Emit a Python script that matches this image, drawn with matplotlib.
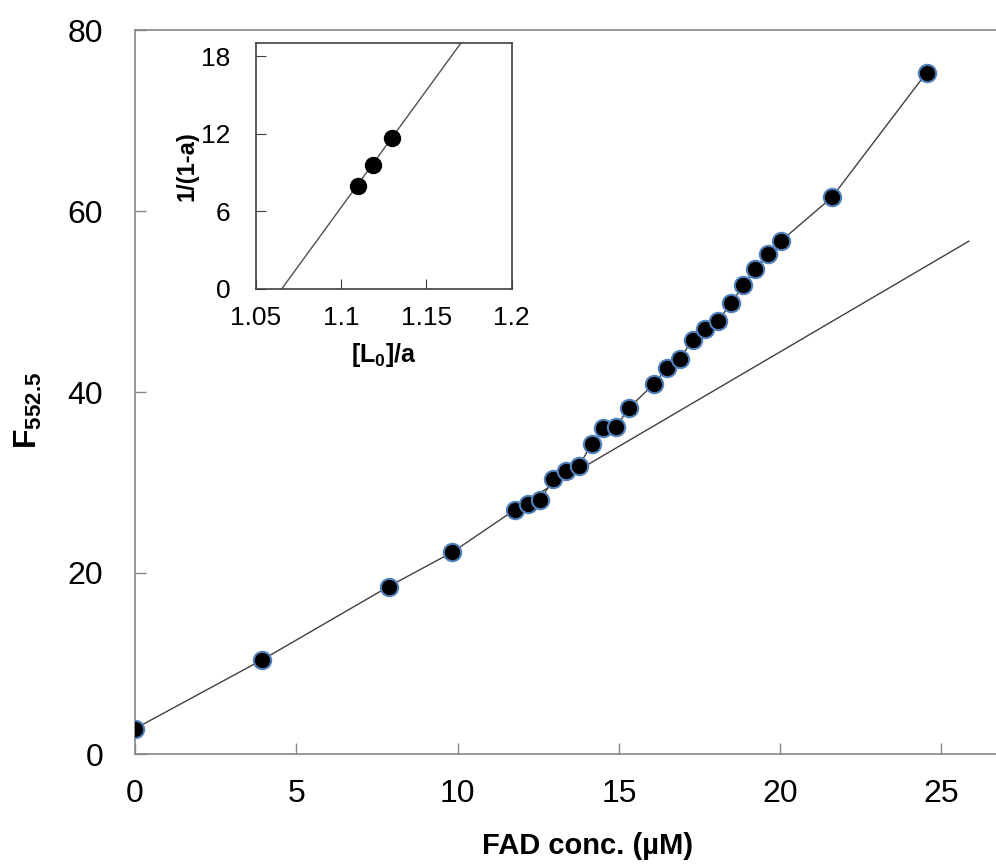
import matplotlib.pyplot as plt
import numpy as np

plt.rcParams['font.family'] = ['Liberation Sans', 'DejaVu Sans']
plt.rcParams['mathtext.fontset'] = 'custom'
plt.rcParams['mathtext.rm'] = 'Liberation Sans'
plt.rcParams['mathtext.bf'] = 'Liberation Sans:bold'

# titration data
fad_conc = [0, 3.94, 7.86, 9.84, 11.78, 12.18, 12.57, 12.97, 13.37, 13.76,
            14.16, 14.52, 14.91, 15.30, 16.09, 16.50, 16.88, 17.29, 17.67,
            18.08, 18.48, 18.86, 19.22, 19.63, 20.03, 21.60, 24.54]
f552 = [2.8, 10.4, 18.5, 22.3, 27.0, 27.6, 28.1, 30.4, 31.3, 31.8,
        34.3, 36.0, 36.1, 38.2, 40.9, 42.7, 43.7, 45.7, 47.0,
        47.9, 49.8, 51.8, 53.6, 55.3, 56.7, 61.5, 75.3]

# linear part
fit_slope = 2.09
fit_intercept = 2.64
fit_x = [11.8, 25.85]

# inset: 1/(1-a) vs [L0]/a
l0_a = [1.110, 1.119, 1.130]
inv_1ma = [7.96, 9.59, 11.65]
inset_slope = 181.0
inset_x0 = 1.0652

fig = plt.figure(figsize=(9.96, 8.66), dpi=100)
ax = fig.add_axes([135/996, 1 - 754/866, 1 - 135/996, (754 - 30)/866])

ax.plot(fad_conc, f552, color='#404040', linewidth=1, zorder=2)
fx = np.array(fit_x)
ax.plot(fx, fit_intercept + fit_slope*fx, color='#404040', linewidth=1, zorder=2)
ax.plot(fad_conc, f552, linestyle='none', marker='o', markersize=12.5,
        markerfacecolor='black', markeredgecolor='#4f81bd', markeredgewidth=1.5, zorder=3)

ax.set_xlim(0, 26.69)
ax.set_ylim(0, 80)
ax.set_xticks([0, 5, 10, 15, 20, 25])
ax.set_yticks([0, 20, 40, 60, 80])
for s in ['left', 'bottom', 'top']:
    ax.spines[s].set_color('#868686')
    ax.spines[s].set_linewidth(1.2)
ax.spines['right'].set_visible(False)
ax.tick_params(axis='both', direction='in', color='#868686', labelsize=23, width=1)
ax.tick_params(axis='x', length=8, pad=18)
ax.tick_params(axis='y', length=8, pad=23)
fig.text(588/996, 1 - 846/866, 'FAD conc. (µM)', ha='center', va='center',
         fontsize=21, fontweight='bold')
fig.text(28/996, 1 - 410/866, r'$\mathbf{F_{552.5}}$', ha='center', va='center',
         fontsize=23, rotation=90)

# inset
ins = fig.add_axes([255.7/996, 1 - 289/866, 256/996, (289 - 42.7)/866])
ix = np.array([1.05, 1.2])
ins.plot(ix, inset_slope*(ix - inset_x0), color='#505050', linewidth=1)
ins.plot(l0_a, inv_1ma, linestyle='none', marker='o', markersize=11.5,
         markerfacecolor='black', markeredgecolor='black')
ins.set_xlim(1.05, 1.2)
ins.set_ylim(0, 19.04)
ins.set_xticks([1.05, 1.1, 1.15, 1.2])
ins.set_xticklabels(['1.05', '1.1', '1.15', '1.2'])
ins.set_yticks([0, 6, 12, 18])
for s in ins.spines.values():
    s.set_color('#404040')
    s.set_linewidth(1.2)
ins.tick_params(axis='both', direction='in', color='#404040', labelsize=19, length=7)
ins.tick_params(axis='x', pad=12)
ins.tick_params(axis='y', pad=18)
ins.set_xlabel(r'$\mathbf{[L_0]/a}$', fontsize=18, labelpad=8)
ins.set_ylabel('1/(1-a)', fontsize=17, fontweight='bold', labelpad=2)

fig.savefig('out.png', dpi=100)
